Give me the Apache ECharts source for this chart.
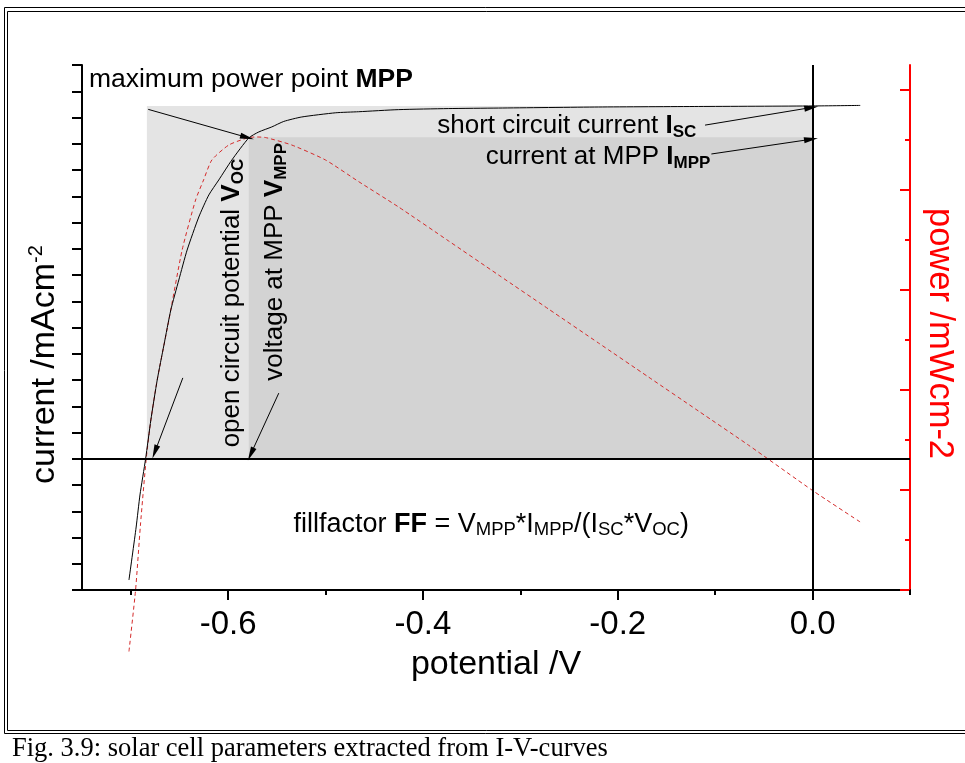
<!DOCTYPE html>
<html><head><meta charset="utf-8">
<script src="https://cdn.jsdelivr.net/npm/echarts@6/dist/echarts.min.js"></script>
<style>html,body{margin:0;padding:0;background:#fff}#c{width:965px;height:763px}</style>
</head><body><div id="c"></div>
<script>
// ---- data ----
const potentialI = [-0.7018,-0.6944,-0.6905,-0.6847,-0.6793,-0.6728,-0.6659,-0.6588,-0.6506,-0.6421,-0.6301,-0.6198,-0.6096,-0.5962,-0.5788,-0.5685,-0.5552,-0.5429,-0.5244,-0.4895,-0.466,-0.425,-0.374,-0.3224,-0.2198,-0.1172,0.0007,0.0489];
const currentI   = [-4.62,-2.6,-1.38,0.0,1.48,3.0,4.33,5.67,6.81,7.95,9.21,10.05,10.62,11.38,12.22,12.45,12.64,12.85,13.02,13.18,13.22,13.30,13.34,13.36,13.40,13.42,13.44,13.46];
const potentialP = [-0.7018,-0.695,-0.690,-0.6841,-0.6793,-0.6728,-0.6608,-0.6472,-0.6334,-0.6252,-0.6167,-0.5993,-0.5788,-0.5703,-0.5617,-0.5347,-0.5,-0.4662,-0.425,-0.3736,-0.3224,-0.2711,-0.2198,-0.1685,-0.1172,-0.066,0.0007,0.0489];
const powerP     = [-1.23,0.0,1.30,2.62,3.40,4.2,5.4,6.8,7.8,8.2,8.6,8.9,9.05,9.06,9.05,8.9,8.6,8.17,7.66,6.98,6.30,5.62,4.94,4.26,3.58,2.90,1.98,1.36];
const xMajorTicks = [-0.6,-0.4,-0.2,0.0];
const xMinorTicks = [-0.7,-0.5,-0.3,-0.1,0.1];
const powerMajorTicks = [0,2,4,6,8,10];
const powerMinorTicks = [1,3,5,7,9];
const Voc = -0.6834, Isc = 13.44, Vmpp = -0.5788, Impp = 12.25;
const arrows = [
  [[-0.682,13.31],[-0.5805,12.24]],
  [[-0.1104,12.71],[-0.0013,13.38]],
  [[-0.1039,11.61],[-0.0016,12.17]],
  [[-0.6465,3.08],[-0.6752,0.26]],
  [[-0.548,2.50],[-0.5767,0.18]]
];

const FONT = 'Liberation Sans, Arial, Helvetica, sans-serif';
const AF = 26, SF = 17;
const rich = (f, s) => ({
  n:{fontSize:f,fontFamily:FONT,color:'#000',lineHeight:30},
  b:{fontSize:f,fontFamily:FONT,fontWeight:'bold',color:'#000',lineHeight:30},
  s:{fontSize:s,fontFamily:FONT,fontWeight:'bold',color:'#000',verticalAlign:'bottom',lineHeight:30},
  r:{fontSize:s,fontFamily:FONT,color:'#000',verticalAlign:'bottom',lineHeight:30}
});
const annotations = [
  {t:'{n|maximum power point }{b|MPP}', at:[-0.7429,14.43], align:'left', rot:0, f:26.5, s:17},
  {t:'{n|short circuit current }{b|I}{s|SC}', at:[-0.1193,12.68], align:'right', rot:0, f:26, s:17},
  {t:'{n|current at MPP }{b|I}{s|MPP}', at:[-0.1049,11.50], align:'right', rot:0, f:26, s:17},
  {t:'{n|open circuit potential }{b|V}{s|OC}', at:[-0.5964,5.93], align:'center', rot:Math.PI/2, f:26, s:17},
  {t:'{n|voltage at MPP }{b|V}{s|MPP}', at:[-0.5521,7.50], align:'center', rot:Math.PI/2, f:26, s:17},
  {t:'{n|fillfactor }{b|FF}{n| = V}{r|MPP}{n|*I}{r|MPP}{n|/(I}{r|SC}{n|*V}{r|OC}{n|)}', at:[-0.5329,-2.49], align:'left', rot:0, f:27, s:18.5}
];

const zip = (a,b) => a.map((v,i)=>[v,b[i]]);
const chart = echarts.init(document.getElementById('c'), null, {renderer:'canvas'});
const xBase = {type:'value', min:-0.75, max:0.1, gridIndex:0, splitLine:{show:false}};
chart.setOption({
  animation:false,
  backgroundColor:'#fff',
  textStyle:{fontFamily:FONT},
  grid:{left:82, right:52, top:65, bottom:173, containLabel:false},
  xAxis:[
    Object.assign({}, xBase, {
      position:'bottom',
      axisLine:{onZero:false, lineStyle:{color:'#000', width:2}},
      axisTick:{customValues:xMajorTicks, inside:false, length:10, lineStyle:{color:'#000', width:2}},
      axisLabel:{customValues:xMajorTicks, formatter:v=>v.toFixed(1), fontSize:33, color:'#000', margin:18, fontFamily:FONT},
      name:'potential /V', nameLocation:'middle', nameGap:58,
      nameTextStyle:{fontSize:34, color:'#000', fontFamily:FONT}
    }),
    Object.assign({}, xBase, {
      position:'bottom',
      axisLine:{show:false, onZero:false},
      axisTick:{customValues:xMinorTicks, inside:false, length:5, lineStyle:{color:'#000', width:2}},
      axisLabel:{show:false}
    })
  ],
  yAxis:[
    {type:'value', min:-5, max:15, interval:1, position:'left', splitLine:{show:false},
     axisLine:{onZero:false, lineStyle:{color:'#000', width:2}},
     axisTick:{inside:false, length:10, lineStyle:{color:'#000', width:2}},
     axisLabel:{show:false},
     name:'{n|current /mAcm}{sup|-2}', nameLocation:'middle', nameRotate:90, nameGap:18,
     nameTextStyle:{padding:[0,74,0,0], rich:{
       n:{fontSize:34, color:'#000', fontFamily:FONT, lineHeight:38},
       sup:{fontSize:20, color:'#000', fontFamily:FONT, verticalAlign:'top', lineHeight:38}}}
    },
    {type:'value', min:0, max:10.5, position:'right', splitLine:{show:false},
     axisLine:{onZero:false, lineStyle:{color:'#ff0000', width:2}},
     axisTick:{customValues:powerMajorTicks, inside:true, length:10, lineStyle:{color:'#ff0000', width:2}},
     axisLabel:{show:false},
     name:'power /mWcm-2', nameLocation:'middle', nameRotate:-90, nameGap:12,
     nameTextStyle:{fontSize:34.5, color:'#ff0000', fontFamily:FONT, padding:[0,0,0,12]}
    },
    {type:'value', min:0, max:10.5, position:'right', splitLine:{show:false},
     axisLine:{show:false, onZero:false},
     axisTick:{customValues:powerMinorTicks, inside:true, length:5, lineStyle:{color:'#ff0000', width:2}},
     axisLabel:{show:false}
    }
  ],
  series:[
    {type:'line', name:'current', xAxisIndex:0, yAxisIndex:0, data:zip(potentialI,currentI),
     showSymbol:false, symbol:'none', smooth:0.2, lineStyle:{color:'#000', width:1}, z:4,
     markArea:{silent:true, data:[
       [{xAxis:Voc, yAxis:0, itemStyle:{color:'#e4e4e4'}}, {xAxis:0, yAxis:Isc}],
       [{xAxis:Vmpp, yAxis:0, itemStyle:{color:'#d3d3d3'}}, {xAxis:0, yAxis:Impp}]
     ]},
     markLine:{silent:true, symbol:['none','none'], label:{show:false},
       lineStyle:{color:'#000', width:2, type:'solid'},
       data:[{yAxis:0},{xAxis:0}]}
    },
    {type:'line', name:'power', xAxisIndex:0, yAxisIndex:1, data:zip(potentialP,powerP),
     showSymbol:false, symbol:'none', smooth:0.2, clip:false, z:3,
     lineStyle:{color:'#d42a2a', width:1, type:[4,3]}},
    {type:'line', name:'arrows', xAxisIndex:0, yAxisIndex:0, data:[], z:5,
     markLine:{silent:true, symbol:['none','path://M3,0L6,14L0,14Z'], symbolSize:14, symbolKeepAspect:true,
       label:{show:false}, lineStyle:{color:'#000', width:1, type:'solid'},
       data:arrows.map(a=>[{coord:a[0]},{coord:a[1]}])}
    }
  ]
});

const g = annotations.map(a => {
  const p = chart.convertToPixel({xAxisIndex:0, yAxisIndex:0}, a.at);
  return {type:'text', x:p[0], y:p[1], rotation:a.rot, z:10,
    style:{text:a.t, rich:rich(a.f, a.s), align:a.align, verticalAlign:'middle', font:a.f+'px '+FONT, fill:'#000'}};
});
g.push(
  {type:'rect', shape:{x:4.5, y:7.5, width:980, height:726}, style:{fill:null, stroke:'#000', lineWidth:1}, z:10, silent:true},
  {type:'rect', shape:{x:7.5, y:11.5, width:975, height:719}, style:{fill:null, stroke:'#000', lineWidth:1}, z:10, silent:true},
  {type:'text', x:12, y:749, style:{text:'Fig. 3.9: solar cell parameters extracted from I-V-curves', font:'26.5px Liberation Serif, Times New Roman, serif', fill:'#000', verticalAlign:'middle'}, z:10}
);
chart.setOption({graphic:g});
</script></body></html>
